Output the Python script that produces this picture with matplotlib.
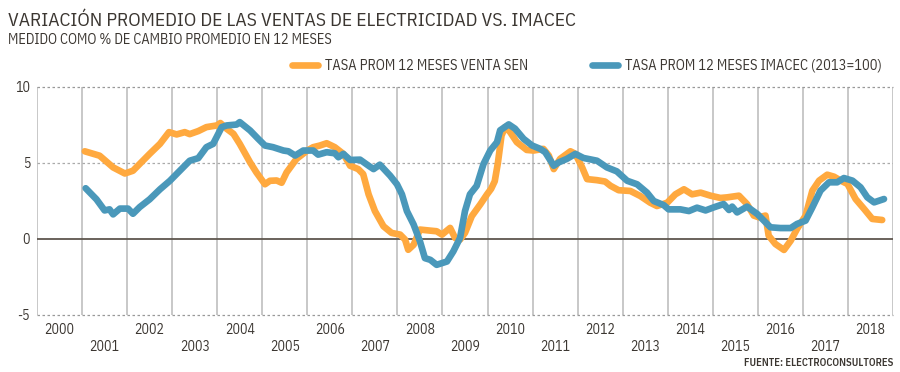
import matplotlib
matplotlib.use('Agg')
import matplotlib.pyplot as plt
from matplotlib.lines import Line2D

# tasa prom 12 meses venta SEN (decimal year, %)
sales_t = [2001.06, 2001.39, 2001.69, 2001.95, 2002.13, 2002.50, 2002.73, 2002.93, 2003.10, 2003.28,
           2003.39, 2003.58, 2003.76, 2003.99, 2004.07, 2004.21, 2004.36, 2004.50, 2004.73, 2004.87,
           2005.06, 2005.17, 2005.32, 2005.43, 2005.54, 2005.76, 2006.00, 2006.13, 2006.28, 2006.43,
           2006.61, 2006.80, 2006.95, 2007.13, 2007.24, 2007.36, 2007.50, 2007.69, 2007.87, 2008.06,
           2008.17, 2008.24, 2008.36, 2008.50, 2008.73, 2008.87, 2008.99, 2009.17, 2009.28, 2009.39,
           2009.50, 2009.65, 2009.84, 2009.99, 2010.08, 2010.16, 2010.23, 2010.31, 2010.39, 2010.50,
           2010.65, 2010.87, 2011.02, 2011.24, 2011.36, 2011.47, 2011.61, 2011.84, 2011.95, 2012.10,
           2012.21, 2012.43, 2012.61, 2012.73, 2012.91, 2013.17, 2013.39, 2013.61, 2013.76, 2013.99,
           2014.17, 2014.36, 2014.54, 2014.73, 2014.95, 2015.17, 2015.32, 2015.58, 2015.76, 2015.91,
           2016.02, 2016.17, 2016.24, 2016.39, 2016.58, 2016.73, 2016.87, 2017.06, 2017.21, 2017.36,
           2017.54, 2017.69, 2017.84, 2017.99, 2018.17, 2018.36, 2018.54, 2018.76]
sales_v = [5.77, 5.48, 4.71, 4.31, 4.49, 5.60, 6.26, 7.03, 6.88, 7.03,
           6.90, 7.10, 7.36, 7.47, 7.63, 7.25, 6.92, 6.26, 5.04, 4.38,
           3.60, 3.83, 3.85, 3.70, 4.38, 5.27, 5.82, 6.04, 6.15, 6.30,
           6.04, 5.60, 4.82, 4.60, 4.27, 2.94, 1.84, 0.84, 0.40, 0.29,
           -0.04, -0.71, -0.38, 0.62, 0.55, 0.51, 0.29, 0.73, 0.07, -0.04,
           0.40, 1.50, 2.28, 2.94, 3.30, 3.80, 5.00, 6.80, 7.37, 7.04,
           6.37, 5.86, 5.82, 5.93, 5.49, 4.60, 5.27, 5.77, 5.60, 4.71,
           3.94, 3.87, 3.78, 3.50, 3.21, 3.16, 2.83, 2.39, 2.17, 2.39,
           2.94, 3.27, 2.94, 3.05, 2.85, 2.70, 2.74, 2.85, 2.30, 1.54,
           1.43, 1.54, 0.22, -0.33, -0.72, -0.11, 0.66, 1.54, 3.18, 3.84,
           4.23, 4.10, 3.84, 3.62, 2.63, 1.97, 1.32, 1.25]

# tasa prom 12 meses IMACEC
imacec_t = [2001.08, 2001.32, 2001.50, 2001.61, 2001.69, 2001.84, 2002.02, 2002.13, 2002.28, 2002.50,
            2002.73, 2002.95, 2003.17, 2003.39, 2003.58, 2003.76, 2003.91, 2004.10, 2004.21, 2004.43,
            2004.50, 2004.73, 2004.91, 2005.06, 2005.24, 2005.47, 2005.58, 2005.73, 2005.91, 2006.13,
            2006.24, 2006.43, 2006.61, 2006.69, 2006.80, 2006.95, 2007.17, 2007.36, 2007.47, 2007.61,
            2007.84, 2007.99, 2008.10, 2008.21, 2008.36, 2008.50, 2008.61, 2008.73, 2008.87, 2009.10,
            2009.24, 2009.39, 2009.50, 2009.61, 2009.76, 2009.91, 2010.06, 2010.21, 2010.28, 2010.47,
            2010.61, 2010.80, 2010.99, 2011.17, 2011.28, 2011.47, 2011.58, 2011.76, 2011.95, 2012.13,
            2012.43, 2012.65, 2012.87, 2013.10, 2013.32, 2013.54, 2013.69, 2013.91, 2014.02, 2014.28,
            2014.47, 2014.65, 2014.84, 2015.02, 2015.24, 2015.36, 2015.43, 2015.54, 2015.76, 2015.99,
            2016.17, 2016.28, 2016.50, 2016.73, 2016.87, 2017.06, 2017.21, 2017.39, 2017.58, 2017.76,
            2017.91, 2018.10, 2018.28, 2018.43, 2018.58, 2018.80]
imacec_v = [3.34, 2.61, 1.88, 1.95, 1.62, 2.00, 2.00, 1.66, 2.10, 2.61,
            3.27, 3.83, 4.49, 5.15, 5.32, 6.04, 6.26, 7.36, 7.47, 7.53,
            7.69, 7.14, 6.59, 6.15, 6.04, 5.82, 5.77, 5.49, 5.82, 5.82,
            5.55, 5.71, 5.64, 5.38, 5.60, 5.20, 5.22, 4.82, 4.60, 4.89,
            4.16, 3.60, 2.94, 1.84, 0.95, -0.15, -1.26, -1.37, -1.70, -1.48,
            -0.82, 0.07, 1.84, 2.94, 3.50, 4.93, 5.82, 6.37, 7.15, 7.54,
            7.26, 6.59, 6.15, 5.93, 5.71, 4.82, 5.04, 5.27, 5.60, 5.33,
            5.15, 4.71, 4.45, 3.83, 3.60, 3.05, 2.50, 2.23, 1.95, 1.95,
            1.84, 2.06, 1.88, 2.08, 2.30, 1.91, 2.13, 1.75, 2.13, 1.64,
            1.10, 0.77, 0.72, 0.72, 0.99, 1.21, 2.08, 3.18, 3.73, 3.73,
            4.01, 3.84, 3.40, 2.74, 2.41, 2.63]

years = list(range(2000, 2019))
y_ticks = [-5, 0, 5, 10]
y_labels = ['-5', '0', '5', '10']

ORANGE = '#FFA93F'
BLUE = '#4A98BA'
TXT = '#3b3631'
FONT = ['IBM Plex Sans Condensed', 'Roboto', 'DejaVu Sans']

fig = plt.figure(figsize=(9, 3.72), dpi=100)
ax = fig.add_axes([37/900, 1 - 315/372, (893 - 37)/900, (315 - 87)/372])

ax.plot(sales_t, sales_v, color=ORANGE, lw=4.8, solid_capstyle='round',
        solid_joinstyle='round', zorder=3)
ax.plot(imacec_t, imacec_v, color=BLUE, lw=4.8, solid_capstyle='round',
        solid_joinstyle='round', zorder=4)

ax.set_xlim(2000, 2019)
ax.set_ylim(-5, 10)

# year separators
for yr in range(2000, 2020):
    ax.axvline(yr, color='#c4c4c4', lw=1.3, zorder=1)
ax.axhline(0, color='#5e564e', lw=1.3, zorder=2)
ax.axhline(5, color='#aaaaaa', lw=0.9, ls=(0, (2, 2)), zorder=1)
ax.axhline(10, color='#999999', lw=0.9, ls=(0, (2, 2)), zorder=1, clip_on=False)
ax.axhline(-5, color='#999999', lw=0.9, ls=(0, (2, 2)), zorder=1, clip_on=False)

for s in ax.spines.values():
    s.set_visible(False)

ax.set_yticks(y_ticks, labels=y_labels)
ax.set_xticks([y + 0.5 for y in years],
              labels=[str(y) if y % 2 == 0 else '\n' + str(y) for y in years])
ax.tick_params(length=0, colors=TXT, labelsize=10)
ax.tick_params(axis='y', pad=5)
ax.tick_params(axis='x', pad=6)
for lab in ax.get_xticklabels() + ax.get_yticklabels():
    lab.set_family(FONT)

fig.text(8/900, 1 - 26/372, 'VARIACIÓN PROMEDIO DE LAS VENTAS DE ELECTRICIDAD VS. IMACEC',
         fontsize=14.0, color=TXT, family=FONT, va='baseline')
fig.text(8/900, 1 - 44.5/372, 'MEDIDO COMO % DE CAMBIO PROMEDIO EN 12 MESES',
         fontsize=10.3, color=TXT, family=FONT, va='baseline')
fig.text(893/900, 1 - 366.5/372, 'FUENTE: ELECTROCONSULTORES',
         fontsize=7.6, color=TXT, family=FONT, weight='semibold', ha='right', va='baseline')

handles = [Line2D([], [], color=ORANGE, lw=4.8, solid_capstyle='round'),
           Line2D([], [], color=BLUE, lw=4.8, solid_capstyle='round')]
fig.legend(handles, ['TASA PROM 12 MESES VENTA SEN', 'TASA PROM 12 MESES IMACEC (2013=100)'],
           loc='center right', bbox_to_anchor=(882/900, 1 - 66/372), ncol=2, frameon=False,
           prop={'family': FONT, 'size': 10.4}, labelcolor=TXT, handlelength=1.8,
           handletextpad=0.5, columnspacing=4.4, borderpad=0, borderaxespad=0)

fig.savefig('out.png', dpi=100)
